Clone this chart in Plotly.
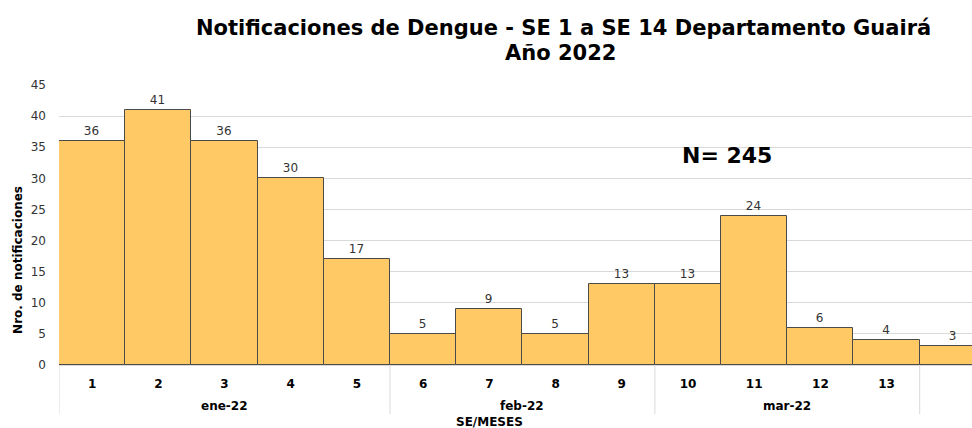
import plotly.graph_objects as go

semanas = [1, 2, 3, 4, 5, 6, 7, 8, 9, 10, 11, 12, 13, 14]
etiquetas_semana = ["1", "2", "3", "4", "5", "6", "7", "8", "9", "10", "11", "12", "13", ""]
meses = ["ene-22", "feb-22", "mar-22", ""]
semanas_por_mes = [5, 4, 4, 1]
valores = [36, 41, 36, 30, 17, 5, 9, 5, 13, 13, 24, 6, 4, 3]
total_n = 245
titulo_1 = "Notificaciones de Dengue - SE 1 a SE 14 Departamento Guairá"
titulo_2 = "Año 2022"
titulo_y = "Nro. de notificaciones"
titulo_x = "SE/MESES"

fig = go.Figure()
fig.add_trace(go.Bar(
    x=semanas,
    y=valores,
    text=[str(v) for v in valores],
    textposition="outside",
    textfont=dict(family="DejaVu Sans", size=12, color="#333333"),
    marker=dict(color="#FFC966", line=dict(color="#4a4a4a", width=1)),
    cliponaxis=False,
))

shapes = []
annotations = []
inicio = semanas[0] - 0.5
for mes, n in zip(meses, semanas_por_mes):
    fin = inicio + n
    shapes.append(dict(type="line", xref="x", yref="paper", x0=inicio, x1=inicio,
                       y0=0, y1=-0.175, line=dict(color="#d9d9d9", width=1)))
    annotations.append(dict(text=f"<b>{mes}</b>", xref="x", yref="paper",
                            x=(inicio + fin) / 2, y=-0.145, xanchor="center", yanchor="middle",
                            showarrow=False,
                            font=dict(family="DejaVu Sans", size=12, color="#000000")))
    inicio = fin
shapes.append(dict(type="line", xref="x", yref="paper", x0=inicio, x1=inicio,
                   y0=0, y1=-0.175, line=dict(color="#d9d9d9", width=1)))

annotations.append(dict(text=f"<b>{titulo_x}</b>", xref="x", yref="paper",
                        x=(semanas[0] - 0.5 + semanas[12] + 0.5) / 2, y=-0.205,
                        xanchor="center", yanchor="middle",
                        showarrow=False,
                        font=dict(family="DejaVu Sans", size=12, color="#000000")))
annotations.append(dict(text=f"<b>{titulo_y}</b>", xref="paper", yref="paper",
                        x=-0.045, y=0.375, xanchor="center", yanchor="middle",
                        textangle=-90, showarrow=False,
                        font=dict(family="DejaVu Sans", size=12, color="#000000")))
annotations.append(dict(text=f"<b>N= {total_n}</b>", xref="paper", yref="paper",
                        x=0.732, y=0.75, xanchor="center", yanchor="middle", showarrow=False,
                        font=dict(family="DejaVu Sans", size=22, color="#000000")))
annotations.append(dict(
    text=f"<b>{titulo_1}</b>", xref="paper", yref="paper", x=0.553, y=1.2036,
    xanchor="center", yanchor="middle",
    showarrow=False, font=dict(family="DejaVu Sans", size=21, color="#000000")))
annotations.append(dict(
    text=f"<b>{titulo_2}</b>", xref="paper", yref="paper", x=0.549, y=1.114,
    xanchor="center", yanchor="middle",
    showarrow=False, font=dict(family="DejaVu Sans", size=21, color="#000000")))

fig.update_layout(
    width=972, height=428,
    margin=dict(l=59, r=0, t=85, b=63),
    paper_bgcolor="white", plot_bgcolor="white",
    bargap=0,
    showlegend=False,
    font=dict(family="DejaVu Sans", color="#000000"),
    shapes=shapes,
    annotations=annotations,
)

fig.update_xaxes(
    range=[semanas[0] - 0.5, 14.29],
    tickvals=semanas, ticktext=etiquetas_semana,
    tickfont=dict(family="DejaVu Sans", size=12, color="#000000", weight="bold"),
    showline=True, linecolor="#d9d9d9",
    ticks="", ticklabelstandoff=8,
    automargin=False, showgrid=False, zeroline=False,
)
fig.update_yaxes(
    range=[0, 45], dtick=5,
    showgrid=True, gridcolor="#d9d9d9", gridwidth=1,
    zeroline=False,
    tickfont=dict(family="DejaVu Sans", size=12, color="#333333"),
    ticks="", ticklabelstandoff=12,
    automargin=False,
)

fig.write_html(
    "out.html",
    config={"displayModeBar": False},
    post_script="document.body.style.margin='0';document.body.style.overflow='hidden';",
)
